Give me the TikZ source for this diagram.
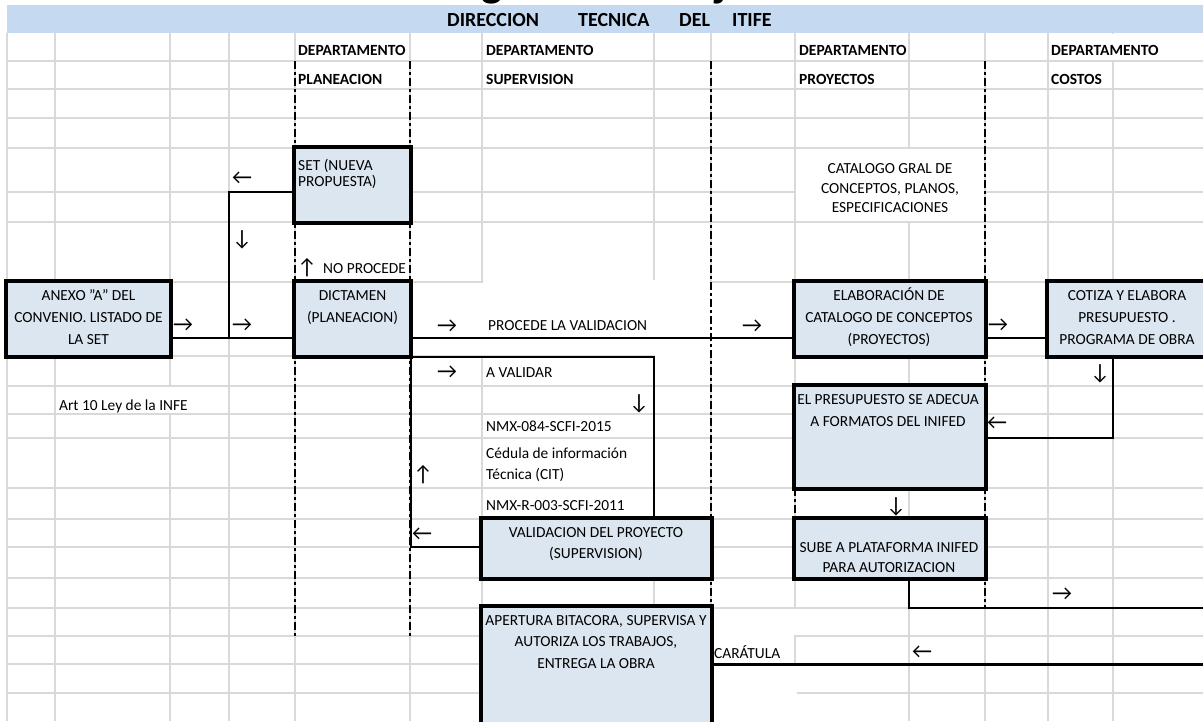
\documentclass[tikz,border=0pt]{standalone}
\usepackage{fontspec}
\setmainfont{Carlito}
\definecolor{gridgray}{HTML}{D9D9D9}
\definecolor{bandblue}{HTML}{C5D9F1}
\definecolor{boxblue}{HTML}{DCE6F1}
\tikzset{
  gridline/.style={draw=gridgray, line width=1.6pt},
  whiteout/.style={fill=white, draw=none},
  box/.style={draw=black, line width=2.6pt, fill=boxblue, inner sep=0pt, rectangle},
  conn/.style={draw=black, line width=2.2pt},
  lane/.style={draw=black, line width=2.2pt, dash pattern=on 8pt off 3pt on 3pt off 3pt},
  cell/.style={font=\fontsize{15.4}{18}\selectfont, inner sep=0pt, anchor=base},
  lcell/.style={font=\fontsize{15.4}{18}\selectfont, inner sep=0pt, anchor=base west},
  hdr/.style={font=\bfseries\fontsize{15.5}{18}\selectfont, inner sep=0pt, anchor=base west},
  ttl/.style={font=\bfseries\fontsize{20}{24}\selectfont, inner sep=0pt, anchor=base west},
  arr/.style={font=\fontsize{22}{24}\selectfont, inner sep=0pt, anchor=center},
}
\begin{document}
\begin{tikzpicture}[x=1pt,y=-1pt]
\useasboundingbox (0,0) rectangle (1203,721);
\clip (0,0) rectangle (1203,721);
% big title, only descenders visible
\node[anchor=base west, font=\bfseries\fontsize{45}{50}\selectfont, inner sep=0pt] (maintitle) at (419.7,-4) {Diagrama de flujo};
% title band
\fill[bandblue] (7,5) rectangle (1203,33);
\node[ttl] (t1) at (447,26.5) {DIRECCION};
\node[ttl] (t2) at (578,26.5) {TECNICA};
\node[ttl] (t3) at (679,26.5) {DEL};
\node[ttl] (t4) at (732,26.5) {ITIFE};
% grid
\foreach \x in {7,55,170,229,295,410,482,654,711,795,909,985,1048,1113}
  \draw[gridline] (\x,33) -- (\x,721);
\foreach \y in {61,89,118,148,192,222,282,356,386,414,438,488,519,547,578,608,636,664,693}
  \draw[gridline] (7,\y) -- (1203,\y);
% merged cells (no grid)
\path[whiteout] (1049.5,34) rectangle (1203,60);
\path[whiteout] (796,149) rectangle (984,221);
\path[whiteout] (411,283) rectangle (794,355);
\path[whiteout] (483,280) rectangle (710,284);
\path[whiteout] (655,355) rectangle (794,357.5);
\path[whiteout] (168.5,387) rectangle (171.5,413);
\path[whiteout] (712,609) rectangle (794,721);
\path[whiteout] (793,609) rectangle (797,635);
\path[whiteout] (793,665) rectangle (797,721);
% lanes
\draw[lane] (295,61) -- (295,636);
\draw[lane] (410,61) -- (410,636);
\draw[lane] (711,61) -- (711,607);
\draw[lane] (985,61) -- (985,608);
\draw[lane] (795,488) -- (795,519);
% boxes
\node[box, minimum width=115pt, minimum height=74pt] (set) at (352.5,185) {};
\node[box, minimum width=163pt, minimum height=74pt] (anexo) at (88.5,319) {};
\node[box, minimum width=115pt, minimum height=74pt] (dictamen) at (352.5,319) {};
\node[box, minimum width=190pt, minimum height=74pt] (elab) at (890,319) {};
\node[box, minimum width=158pt, minimum height=74pt] (cotiza) at (1127,319) {};
\node[box, minimum width=190pt, minimum height=102pt] (presup) at (890,437) {};
\node[box, minimum width=229pt, minimum height=59pt] (valid) at (596.5,548.5) {};
\node[box, minimum width=190pt, minimum height=59pt] (sube) at (890,548.5) {};
\node[box, minimum width=229pt, minimum height=120pt] (apertura) at (596.5,667) {};
% helper coordinates
\coordinate (x229) at (229,0);
\coordinate (x654) at (654,0);
\coordinate (x909) at (909,0);
\coordinate (x1113) at (1113,0);
\coordinate (y192) at (0,192);
\coordinate (y338) at (0,338);
\coordinate (y438) at (0,438);
\coordinate (y547) at (0,547);
\coordinate (y608) at (0,608);
\coordinate (y665) at (0,664.5);
\coordinate (e1) at (1206,608);
\coordinate (e2) at (1206,664.5);
% connectors
\draw[conn] (anexo.east |- y338) -- (dictamen.west |- y338);
\draw[conn] (set.west |- y192) -- (x229 |- y192) -- (x229 |- y338);
\draw[conn] (dictamen.east |- y338) -- (elab.west |- y338);
\draw[conn] (elab.east |- y338) -- (cotiza.west |- y338);
\draw[conn] (cotiza.south -| x1113) -- (x1113 |- y438) -- (presup.east |- y438);
\draw[conn] (valid.north -| x654) -- (x654 |- dictamen.south) -- (dictamen.south east) -- (dictamen.south east |- y547) -- (valid.west |- y547);
\draw[conn] (sube.south -| x909) -- (x909 |- y608) -- (e1);
\draw[conn] (apertura.east |- y665) -- (e2);
% redraw box borders on top
\foreach \b in {set,anexo,dictamen,elab,cotiza,presup,valid,sube,apertura}
  \draw[black, line width=2.6pt] (\b.south west) rectangle (\b.north east);
% headers
\node[hdr] (h1a) at (298,55) {DEPARTAMENTO};
\node[hdr] (h1b) at (298,84) {PLANEACION};
\node[hdr] (h2a) at (486,55) {DEPARTAMENTO};
\node[hdr] (h2b) at (486,84) {SUPERVISION};
\node[hdr] (h3a) at (799,55) {DEPARTAMENTO};
\node[hdr] (h3b) at (799,84) {PROYECTOS};
\node[hdr] (h4a) at (1051,55) {DEPARTAMENTO};
\node[hdr] (h4b) at (1051,84) {COSTOS};
% box texts
\node[lcell] (set1) at (298,170) {SET (NUEVA};
\node[lcell] (set2) at (298,186) {PROPUESTA)};
\node[cell] (anx1) at (88.5,300) {ANEXO {\char34}A{\char34} DEL};
\node[cell] (anx2) at (88.5,322) {CONVENIO. LISTADO DE};
\node[cell] (anx3) at (88.5,344) {LA SET};
\node[cell] (dic1) at (352.5,300) {DICTAMEN};
\node[cell] (dic2) at (352.5,322) {(PLANEACION)};
\node[cell] (ela1) at (889,300) {ELABORACIÓN DE};
\node[cell] (ela2) at (889,322) {CATALOGO DE CONCEPTOS};
\node[cell] (ela3) at (889,344) {(PROYECTOS)};
\node[cell] (cot1) at (1127,300) {COTIZA Y ELABORA};
\node[cell] (cot2) at (1127,322) {PRESUPUESTO .};
\node[cell] (cot3) at (1127,344) {PROGRAMA DE OBRA};
\node[cell] (cat1) at (890,173.5) {CATALOGO GRAL DE};
\node[cell] (cat2) at (890,193) {CONCEPTOS, PLANOS,};
\node[cell] (cat3) at (890,212.5) {ESPECIFICACIONES};
\node[cell] (pre1) at (888,404) {EL PRESUPUESTO SE ADECUA};
\node[cell] (pre2) at (888,426.5) {A FORMATOS DEL INIFED};
\node[cell] (val1) at (596,537) {VALIDACION DEL PROYECTO};
\node[cell] (val2) at (596,558) {(SUPERVISION)};
\node[cell] (sub1) at (889,552) {SUBE A PLATAFORMA INIFED};
\node[cell] (sub2) at (889,572.5) {PARA AUTORIZACION};
\node[cell] (ape1) at (596,625) {APERTURA BITACORA, SUPERVISA Y};
\node[cell] (ape2) at (596,646.5) {AUTORIZA LOS TRABAJOS,};
\node[cell] (ape3) at (596,668) {ENTREGA LA OBRA};
% free texts
\node[lcell] (noproc) at (323,273) {NO PROCEDE};
\node[lcell] (proc) at (488,330.5) {PROCEDE LA VALIDACION};
\node[lcell] (aval) at (486,377) {A VALIDAR};
\node[lcell] (nmx1) at (486,431) {NMX-084-SCFI-2015};
\node[lcell] (ced1) at (486,458) {Cédula de información};
\node[lcell] (ced2) at (486,479.5) {Técnica (CIT)};
\node[lcell] (nmx2) at (486,510) {NMX-R-003-SCFI-2011};
\node[lcell] (carat) at (714,658) {CARÁTULA};
\node[lcell] (art) at (59,410.5) {Art 10 Ley de la INFE};
% arrows
\node[arr] (a1) at (183,325) {→};
\node[arr] (a2) at (242,325) {→};
\node[arr] (a3) at (242,178) {←};
\node[arr] (a4) at (242,240) {↓};
\node[arr] (a5) at (307,268) {↑};
\node[arr] (a6) at (447,326) {→};
\node[arr] (a7) at (752,326) {→};
\node[arr] (a8) at (998,325) {→};
\node[arr] (a9) at (1100,374) {↓};
\node[arr] (a10) at (997,423) {←};
\node[arr] (a11) at (447,372) {→};
\node[arr] (a12) at (639,404) {↓};
\node[arr] (a13) at (423,475) {↑};
\node[arr] (a14) at (422,534) {←};
\node[arr] (a15) at (896,507) {↓};
\node[arr] (a16) at (1062,594) {→};
\node[arr] (a17) at (922,652) {←};
\end{tikzpicture}
\end{document}
